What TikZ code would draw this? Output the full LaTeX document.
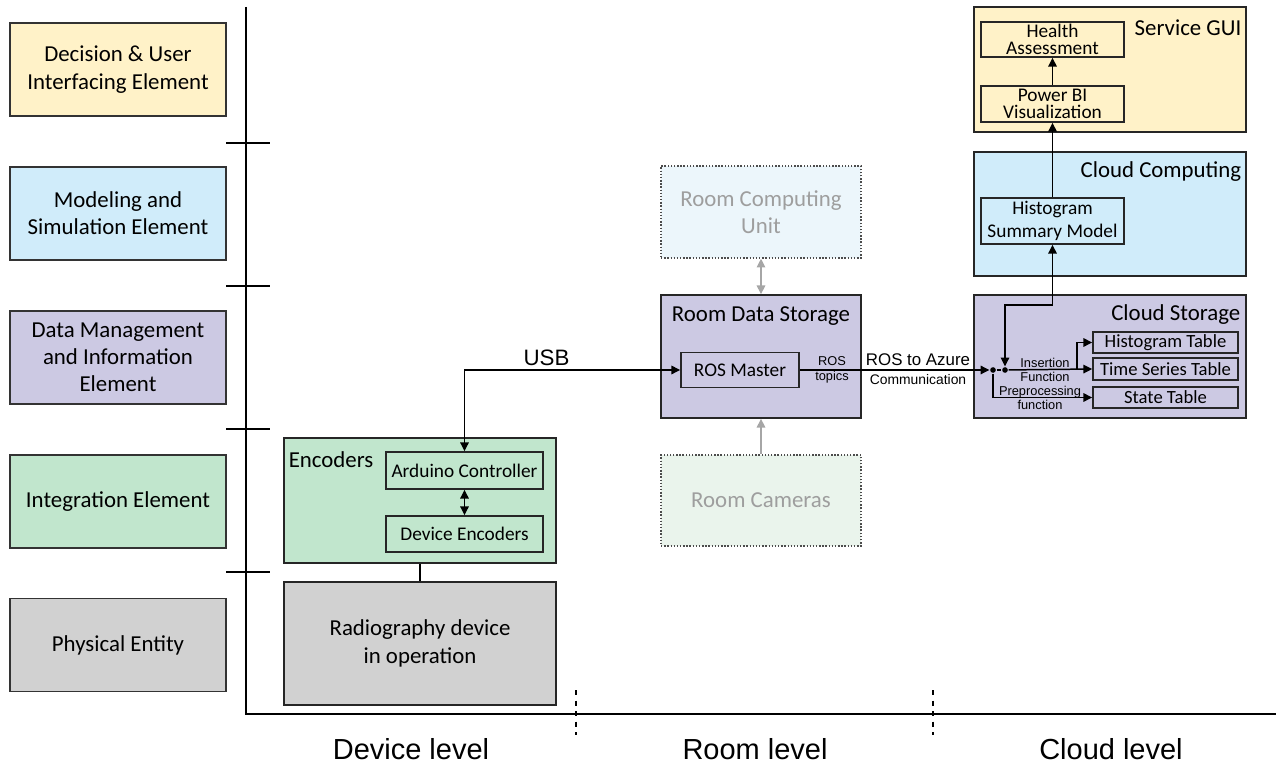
\documentclass[tikz,border=0pt]{standalone}
\usepackage{fontspec}
\setmainfont{Carlito}
\newfontfamily\arialf{Liberation Sans}
\usetikzlibrary{arrows.meta}
\definecolor{guiyellow}{RGB}{255,242,200}
\definecolor{modblue}{RGB}{208,236,250}
\definecolor{datapurple}{RGB}{204,201,227}
\definecolor{intgreen}{RGB}{193,230,205}
\definecolor{physgray}{RGB}{209,209,209}
\definecolor{faintblue}{RGB}{236,246,251}
\definecolor{faintgreen}{RGB}{234,244,236}
\begin{document}
\begin{tikzpicture}[x=0.02cm,y=-0.02cm,line width=0.85pt,
		>={Triangle[length=5pt,width=4.8pt]},
		elem/.style={draw=black!80,line width=0.8pt,minimum width=4.32cm,minimum height=1.86cm,align=center,font=\fontsize{13}{15.5}\selectfont},
		group/.style={draw=black!85,line width=0.9pt,minimum width=5.44cm,minimum height=2.46cm,align=center,font=\fontsize{13}{16}\selectfont},
		part/.style={draw=black!85,line width=0.9pt,align=center,inner sep=0pt,font=\fontsize{11}{10}\selectfont},
		table/.style={part,minimum width=2.9cm,minimum height=0.43cm,font=\fontsize{10.6}{11}\selectfont},
		faint/.style={draw=black!70,densely dotted,line width=0.8pt,minimum width=4cm,minimum height=1.84cm,align=center,text=black!38,font=\fontsize{13}{15.5}\selectfont},
		title/.style={inner sep=0pt,font=\fontsize{13}{15.5}\selectfont},
		small/.style={inner sep=0pt,align=center,font=\arialf\fontsize{7.3}{8.2}\selectfont},
		level/.style={font=\arialf\fontsize{16.5}{18}\selectfont},
		dot/.style={circle,fill,inner sep=0pt,minimum size=3.2pt}]
	\useasboundingbox (0,0) rectangle (1278,766);
	
	\node[elem,fill=guiyellow] (decision) at (118,69.5) {Decision \& User\\Interfacing Element};
	\node[elem,fill=modblue] (modeling) at (118,213.5) {Modeling and\\Simulation Element};
	\node[elem,fill=datapurple] (datamgmt) at (118,357.5) {Data Management\\and Information\\Element};
	\node[elem,fill=intgreen] (integration) at (118,501.5) {Integration Element};
	\node[elem,fill=physgray] (physical) at (118,645) {Physical Entity};
	
	\draw[line width=0.8pt] (246,7) -- (246,714) -- (1276,714);
	\foreach \y in {143,286,429,572}
		\draw[line width=0.8pt] (226,\y) -- (270,\y);
	\foreach \x in {576,933}
		\draw[dashed,line width=0.7pt] (\x,690) -- (\x,735);
	\node[level] (devlvl) at (411,749) {Device level};
	\node[level] (roomlvl) at (755,749) {Room level};
	\node[level] (cloudlvl) at (1111,749) {Cloud level};
	
	\node[group,fill=intgreen,minimum height=2.5cm] (enc) at (420,500.5) {};
	\node[title,anchor=west] (enctitle) at (288,460) {Encoders};
	\node[part,minimum width=3.14cm,minimum height=0.74cm] (ard) at (464.5,470.5) {Arduino Controller};
	\node[part,minimum width=3.14cm,minimum height=0.72cm] (devenc) at (464.5,534) {Device Encoders};
	\node[group,fill=physgray] (rad) at (420,643.5) {Radiography device\\in operation};
	
	\node[faint,fill=faintblue] (rcu) at (761,212) {Room Computing\\Unit};
	\node[group,fill=datapurple,minimum width=4cm] (rds) at (761,356.5) {};
	\node[title] (rdstitle) at (761,316) {Room Data Storage};
	\node[part,minimum width=2.36cm,minimum height=0.7cm] (rosm) at (740,370) {ROS Master};
	\node[faint,fill=faintgreen,minimum height=1.82cm] (cams) at (761,500.5) {Room Cameras};
	
	\node[group,fill=guiyellow,minimum height=2.5cm] (gui) at (1110,69.5) {};
	\node[title,anchor=east] (guititle) at (1242,28) {Service GUI};
	\node[part,minimum width=2.86cm,minimum height=0.7cm] (health) at (1052.5,39.5) {Health\\Assessment};
	\node[part,minimum width=2.86cm,minimum height=0.72cm] (pbi) at (1052.5,104) {Power BI\\Visualization};
	\node[group,fill=modblue,minimum height=2.48cm] (cc) at (1110,214) {};
	\node[title,anchor=east] (cctitle) at (1242,172) {Cloud Computing};
	\node[part,minimum width=2.86cm,minimum height=0.92cm,font=\fontsize{11}{13}\selectfont] (hsm) at (1052.5,221) {Histogram\\Summary Model};
	\node[group,fill=datapurple] (cs) at (1110,356.5) {};
	\node[title,anchor=east] (cstitle) at (1241,315) {Cloud Storage};
	\node[table] (histT) at (1165.5,342.5) {Histogram Table};
	\node[table] (tsT) at (1165.5,369) {Time Series Table};
	\node[table] (stT) at (1165.5,397.5) {State Table};
	
	\draw[<->] (ard.south) -- (devenc.north);
	\draw[line width=1.6pt] (enc.south) -- (rad.north);
	\draw[<->] (ard.north) |- node[pos=0.69,above,inner sep=2pt,font=\arialf\fontsize{12.7}{14}\selectfont]{USB} (rosm.west);
	\draw[<->,black!35,line width=1pt] (rcu.south) -- (rds.north);
	\draw[->,black!35,line width=1pt] (cams.north) -- (rds.south);
	
	\node[dot] (d1) at (993,370) {};
	\node[dot] (d2) at (1005,370) {};
	\coordinate (br) at (1077,370);
	\coordinate (bend) at (1005,305);
	\draw[->] (rosm.east) -- (d1);
	\node[small] (topics) at (832,370) {ROS\\topics};
	\node[inner sep=0pt,font=\arialf\fontsize{9.6}{11}\selectfont] (azure) at (918,360) {ROS to Azure};
	\node[inner sep=0pt,font=\arialf\fontsize{7.9}{9}\selectfont] (comm) at (918,380) {Communication};
	\draw (d1) -- (d2);
	\draw[->] (d2) -- (tsT.west);
	\draw[->] (br) |- (histT.west);
	\draw[->] (d1) |- (stT.west);
	\node[small] (insert) at (1045,370) {Insertion\\Function};
	\node[small] (prep) at (1040,398) {Preprocessing\\function};
	\draw[<->] (hsm.south) |- (bend) -- (d2);
	\draw[->] (hsm.north) -- (pbi.south);
	\draw[->] (pbi.north) -- (health.south);
\end{tikzpicture}
\end{document}
